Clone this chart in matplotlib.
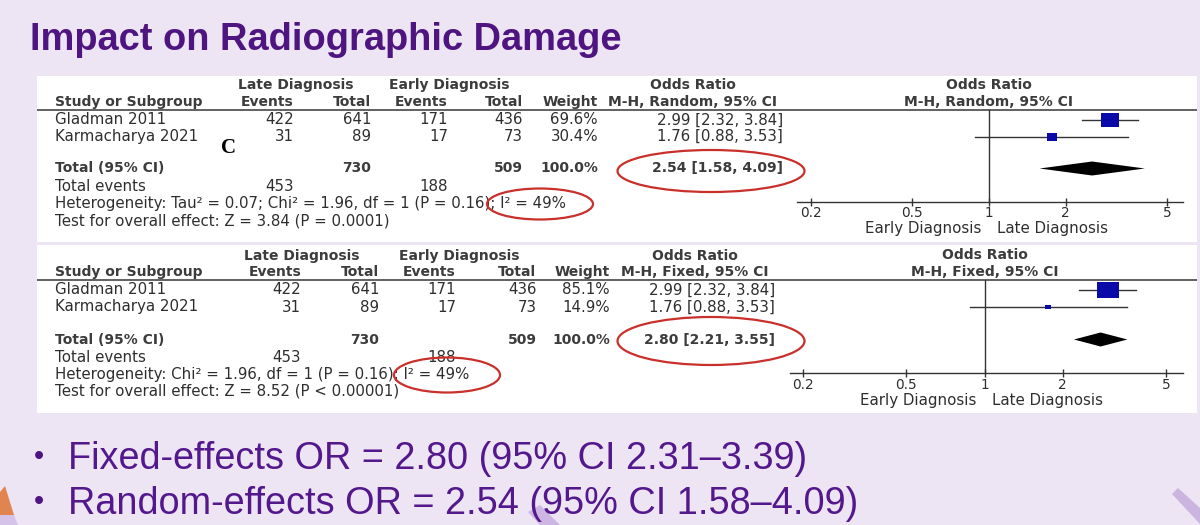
import matplotlib
matplotlib.use("Agg")
import matplotlib.pyplot as plt
from matplotlib.patches import Rectangle, Ellipse, Polygon
import numpy as np

# ---------------- data ----------------
studies = ["Gladman 2011", "Karmacharya 2021"]
late_events = [422, 31]
late_total = [641, 89]
early_events = [171, 17]
early_total = [436, 73]
or_est = [2.99, 1.76]
or_low = [2.32, 0.88]
or_high = [3.84, 3.53]
weight_random = [69.6, 30.4]
weight_fixed = [85.1, 14.9]
total_late = 730
total_early = 509
total_events_late = 453
total_events_early = 188
pooled_random = [2.54, 1.58, 4.09]
pooled_fixed = [2.80, 2.21, 3.55]
axis_ticks = [0.2, 0.5, 1, 2, 5]
axis_ticklabels = ["0.2", "0.5", "1", "2", "5"]
het_random = "Heterogeneity: Tau\u00b2 = 0.07; Chi\u00b2 = 1.96, df = 1 (P = 0.16); I\u00b2 = 49%"
overall_random = "Test for overall effect: Z = 3.84 (P = 0.0001)"
het_fixed = "Heterogeneity: Chi\u00b2 = 1.96, df = 1 (P = 0.16); I\u00b2 = 49%"
overall_fixed = "Test for overall effect: Z = 8.52 (P < 0.00001)"
title = "Impact on Radiographic Damage"
bullets = ["Fixed-effects OR = 2.80 (95% CI 2.31\u20133.39)",
           "Random-effects OR = 2.54 (95% CI 1.58\u20134.09)"]

# ---------------- style ----------------
W, H = 1200, 525
BG = "#EDE4F4"
PURPLE = "#4E1581"
TXT = "#2e2e2e"
HDR = "#3c3c3c"
RED = "#C9302C"
BLUE = "#0A0AA8"
TABLE_FONT = ["DejaVu Sans"]
SLIDE_FONT = ["Liberation Sans", "DejaVu Sans"]
FS = 10.8
FSB = 10.0

fig = plt.figure(figsize=(12, 5.25), dpi=100)
fig.patch.set_facecolor(BG)
bg = fig.add_axes([0, 0, 1, 1])
bg.set_xlim(0, W)
bg.set_ylim(H, 0)
bg.axis("off")

# decorative shapes
bg.add_patch(Polygon([(0, 492), (5, 486), (14, 515), (0, 515)], closed=True, color="#E0854F", lw=0))
bg.add_patch(Polygon([(0, 515), (14, 515), (18, 525), (0, 525)], closed=True, color="#D6C3EA", lw=0))
bg.add_patch(Polygon([(528, 512), (540, 505), (560, 525), (540, 525)], closed=True, color="#CDB6E3", lw=0))
bg.add_patch(Polygon([(1172, 494), (1178, 488), (1200, 508), (1200, 524)], closed=True, color="#CBB5E0", lw=0))

# title & bullets
bg.text(30, 50, title, fontsize=27.4, fontweight="bold", color=PURPLE, family=SLIDE_FONT, va="baseline")
for i, b in enumerate(bullets):
    yb = 469 + 45 * i
    bg.text(34, yb - 12, "\u2022", fontsize=21, color=PURPLE, family=SLIDE_FONT, va="center")
    bg.text(68, yb, b, fontsize=27.3, color="#52188C", family=SLIDE_FONT, va="baseline")


def tx(x, y, s, ha="left", bold=False):
    bg.text(x, y, s, ha=ha, va="center", fontsize=FSB if bold else FS,
            fontweight="bold" if bold else "normal", color=HDR if bold else TXT,
            family=TABLE_FONT)


def draw_panel(cfg, method, weights, pooled, het_text, test_text):
    x0, y0, x1, y1 = cfg["box"]
    bg.add_patch(Rectangle((x0, y0), x1 - x0, y1 - y0, color="white", lw=0))
    bg.plot([x0, x1], [cfg["line"], cfg["line"]], color="#555555", lw=1.3, solid_capstyle="butt")

    cr = cfg["col_r"]
    # headers
    tx(cfg["late_c"], cfg["hdr1"], "Late Diagnosis", ha="center", bold=True)
    tx(cfg["early_c"], cfg["hdr1"], "Early Diagnosis", ha="center", bold=True)
    tx(cfg["or_c"], cfg["hdr1"], "Odds Ratio", ha="center", bold=True)
    tx(55, cfg["hdr2"], "Study or Subgroup", bold=True)
    for xr, lab in zip(cr, ["Events", "Total", "Events", "Total", "Weight"]):
        tx(xr, cfg["hdr2"], lab, ha="right", bold=True)
    tx(cfg["or_c"], cfg["hdr2"], method, ha="center", bold=True)

    # study rows
    for i, s in enumerate(studies):
        y = cfg["rows"][i]
        tx(55, y, s)
        vals = [str(late_events[i]), str(late_total[i]), str(early_events[i]),
                str(early_total[i]), f"{weights[i]:.1f}%"]
        for xr, v in zip(cr, vals):
            tx(xr, y, v, ha="right")
        tx(cfg["ci_r"], y, f"{or_est[i]:.2f} [{or_low[i]:.2f}, {or_high[i]:.2f}]", ha="right")

    # totals
    yt = cfg["total"]
    tx(55, yt, "Total (95% CI)", bold=True)
    tx(cr[1], yt, str(total_late), ha="right", bold=True)
    tx(cr[3], yt, str(total_early), ha="right", bold=True)
    tx(cr[4], yt, f"{sum(weights):.1f}%", ha="right", bold=True)
    tx(cfg["ci_r"], yt, f"{pooled[0]:.2f} [{pooled[1]:.2f}, {pooled[2]:.2f}]", ha="right", bold=True)
    ye = cfg["tevents"]
    tx(55, ye, "Total events")
    tx(cr[0], ye, str(total_events_late), ha="right")
    tx(cr[2], ye, str(total_events_early), ha="right")
    tx(55, cfg["het"], het_text)
    tx(55, cfg["test"], test_text)

    # forest plot axes
    fx = cfg["fx"]
    ax = fig.add_axes([fx["left"] / W, 1 - fx["bottom"] / H,
                       (fx["right"] - fx["left"]) / W, (fx["bottom"] - fx["top"]) / H])
    ax.patch.set_alpha(0)
    ax.set_xscale("log")
    dec = (fx["p_hi"] - fx["p_lo"]) / np.log10(axis_ticks[-1] / axis_ticks[0])
    ax.set_xlim(axis_ticks[0] * 10 ** (-(fx["p_lo"] - fx["left"]) / dec),
                axis_ticks[-1] * 10 ** ((fx["right"] - fx["p_hi"]) / dec))
    ax.set_ylim(fx["bottom"], fx["top"])
    for sp in ["top", "left", "right"]:
        ax.spines[sp].set_visible(False)
    ax.spines["bottom"].set_color("#333333")
    ax.spines["bottom"].set_linewidth(1.0)
    ax.set_yticks([])
    ax.xaxis.set_minor_locator(matplotlib.ticker.NullLocator())
    ax.set_xticks(axis_ticks)
    ax.set_xticklabels(axis_ticklabels, family=TABLE_FONT, fontsize=9.8, color=TXT)
    ax.tick_params(axis="x", direction="inout", length=6, width=1.0, color="#333333", pad=0.3)
    ax.axvline(1, color="#333333", lw=1.0)

    rect = [(-1, -0.72), (1, -0.72), (1, 0.72), (-1, 0.72), (-1, -0.72)]
    for i in range(len(studies)):
        y = cfg["rows"][i]
        ax.plot([or_low[i], or_high[i]], [y, y], color="#333333", lw=1.0)
        wpx = 1.17 * weights[i] ** 0.65
        ax.plot([or_est[i]], [y], marker=rect, ms=wpx * 0.72, color=BLUE, mew=0, ls="none")
    hh = 7.0
    ax.fill([pooled[1], pooled[0], pooled[2], pooled[0]], [yt, yt - hh, yt, yt + hh],
            color="black", lw=0)

    # right header + direction labels anchored at OR = 1
    ax.annotate("Odds Ratio", xy=(1, 1), xycoords=("data", "axes fraction"),
                xytext=(0, 25 * 0.72), textcoords="offset points", ha="center", va="center",
                fontsize=FSB, fontweight="bold", color=HDR, family=TABLE_FONT, annotation_clip=False)
    ax.annotate(method, xy=(1, 1), xycoords=("data", "axes fraction"),
                xytext=(0, 8.5 * 0.72), textcoords="offset points", ha="center", va="center",
                fontsize=FSB, fontweight="bold", color=HDR, family=TABLE_FONT, annotation_clip=False)
    ax.annotate("Early Diagnosis", xy=(1, 0), xycoords=("data", "axes fraction"),
                xytext=(-8 * 0.72, -27 * 0.72), textcoords="offset points", ha="right", va="center",
                fontsize=FS, color=TXT, family=TABLE_FONT, annotation_clip=False)
    ax.annotate("Late Diagnosis", xy=(1, 0), xycoords=("data", "axes fraction"),
                xytext=(8 * 0.72, -27 * 0.72), textcoords="offset points", ha="left", va="center",
                fontsize=FS, color=TXT, family=TABLE_FONT, annotation_clip=False)

    for (cx, cy, ew, eh) in cfg["ellipses"]:
        bg.add_patch(Ellipse((cx, cy), ew, eh, fill=False, ec=RED, lw=1.6, zorder=5))


top_cfg = dict(
    box=(37, 76, 1197, 242), hdr1=85, hdr2=102, line=110,
    rows=[120, 136.5], total=168.5, tevents=186.5, het=203.5, test=220.5,
    late_c=295.6, early_c=449.6, col_r=[294, 371, 448, 523, 598], ci_r=783, or_c=693,
    fx=dict(left=797, right=1183, top=110, bottom=201.7, p_lo=811, p_hi=1167),
    ellipses=[(711, 171, 187, 42), (540, 204, 106, 31)],
)
bot_cfg = dict(
    box=(37, 245, 1197, 413), hdr1=256, hdr2=272, line=280,
    rows=[290, 307], total=339.5, tevents=357.5, het=374.5, test=391.5,
    late_c=302, early_c=459, col_r=[301, 379, 456, 536.5, 610], ci_r=775, or_c=695,
    fx=dict(left=790, right=1183, top=280, bottom=373.3, p_lo=803, p_hi=1166),
    ellipses=[(711, 341, 187, 48), (447, 375, 106, 35)],
)

draw_panel(top_cfg, "M-H, Random, 95% CI", weight_random, pooled_random, het_random, overall_random)
draw_panel(bot_cfg, "M-H, Fixed, 95% CI", weight_fixed, pooled_fixed, het_fixed, overall_fixed)

# panel marker letter
bg.text(228, 148, "C", fontsize=15, fontweight="bold", color="black",
        family=["Liberation Serif", "DejaVu Serif"], ha="center", va="center")

fig.savefig("out.png", dpi=100, facecolor=fig.get_facecolor())
